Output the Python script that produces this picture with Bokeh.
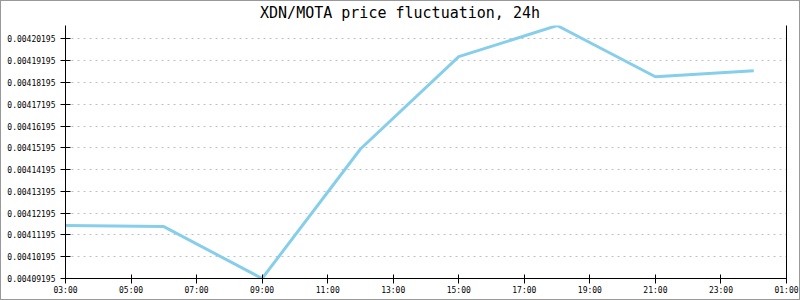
from bokeh.plotting import figure
from bokeh.embed import file_html
from bokeh.resources import INLINE
from bokeh.layouts import column
from bokeh.models import FixedTicker, LinearAxis, Range1d, Div

# Data
hours = [3, 6, 9, 12, 15, 18, 21, 24]
prices = [0.00411624, 0.00411578, 0.00409195, 0.00415139, 0.00419379, 0.00420808, 0.00418457, 0.00418734]

x_ticks = [3, 5, 7, 9, 11, 13, 15, 17, 19, 21, 23, 25]
x_labels = ["03:00", "05:00", "07:00", "09:00", "11:00", "13:00", "15:00", "17:00", "19:00", "21:00", "23:00", "01:00"]
y_ticks = [0.00409195, 0.00410195, 0.00411195, 0.00412195, 0.00413195, 0.00414195,
           0.00415195, 0.00416195, 0.00417195, 0.00418195, 0.00419195, 0.00420195]
y_labels = ["0.00409195", "0.00410195", "0.00411195", "0.00412195", "0.00413195", "0.00414195",
            "0.00415195", "0.00416195", "0.00417195", "0.00418195", "0.00419195", "0.00420195"]
title_text = "XDN/MOTA price fluctuation, 24h"

FONT = "DejaVu Sans Mono"
W = 798
TITLE_H = 24
PLOT_H = 274

title = Div(text=title_text, width=W, height=TITLE_H,
            styles={"font-family": FONT, "font-size": "15px", "color": "black",
                    "text-align": "center", "line-height": "24px", "width": f"{W}px",
                    "background": "white", "margin": "0", "padding": "0"})

p = figure(width=W, height=PLOT_H, output_backend="svg", toolbar_location=None,
           x_range=Range1d(3, 25), y_range=Range1d(0.00409195, 0.0042081),
           min_border_left=64, min_border_right=13, min_border_top=0, min_border_bottom=21)
p.outline_line_color = None
p.background_fill_color = "white"
p.border_fill_color = "white"

p.line(hours, prices, line_color="#87CEEB", line_width=3)

# axes
xa = p.xaxis[0]
xa.ticker = FixedTicker(ticks=x_ticks)
xa.major_label_overrides = {t_: l for t_, l in zip(x_ticks, x_labels)}
xa.minor_tick_line_color = None
xa.major_tick_in = 4
xa.major_tick_out = 5
xa.major_label_standoff = 2
xa.axis_line_color = "black"
xa.major_tick_line_color = "black"
xa.major_label_text_font = FONT
xa.major_label_text_font_size = "8px"
xa.major_label_text_color = "black"

ya = p.yaxis[0]
ya.ticker = FixedTicker(ticks=y_ticks)
ya.major_label_overrides = {t_: l for t_, l in zip(y_ticks, y_labels)}
ya.minor_tick_line_color = None
ya.major_tick_in = 5
ya.major_tick_out = 5
ya.major_label_standoff = 5
ya.axis_line_color = "black"
ya.major_tick_line_color = "black"
ya.major_label_text_font = FONT
ya.major_label_text_font_size = "8px"
ya.major_label_text_color = "black"

right = LinearAxis(ticker=FixedTicker(ticks=[]), major_label_text_font_size="0px",
                   axis_line_color="black", major_tick_line_color=None, minor_tick_line_color=None)
p.add_layout(right, "right")

p.xgrid.grid_line_color = None
p.ygrid.ticker = FixedTicker(ticks=y_ticks)
p.ygrid.grid_line_color = "#c0c0c0"
p.ygrid.grid_line_dash = "2 4"

layout = column(title, p, spacing=0, styles={"border": "1px solid #999999", "background": "white"})

open("out.html", "w").write(file_html(layout, INLINE))
